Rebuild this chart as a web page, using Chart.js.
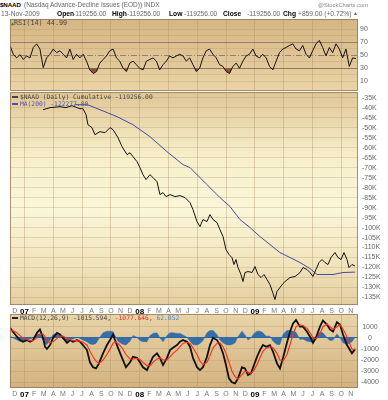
<!DOCTYPE html>
<html>
<head>
<meta charset="utf-8">
<script src="https://cdn.jsdelivr.net/npm/chart.js@4.4.1/dist/chart.umd.min.js"></script>
<style>
  body { margin: 0; background: #fff; }
  #wrap { position: relative; width: 388px; height: 400px; overflow: hidden; font-family: 'Liberation Sans', Arial, sans-serif; }
  canvas { position: absolute; left: 0; }
  .t { position: absolute; white-space: nowrap; line-height: 1; z-index: 2; }
  .g { color: #666; font-size: 6.7px; }
  .b { color: #000; font-weight: bold; font-size: 6.7px; }
  .mono { font-family: 'DejaVu Sans Mono', monospace; color: #444; font-size: 6.3px; }
  .dash { display: inline-block; width: 6px; height: 2px; vertical-align: middle; margin-right: 2px; }
</style>
</head>
<body>
<div id="wrap">
  <div class="t b" style="left:0;top:2px;font-size:6.2px;letter-spacing:-0.1px">$NAAD</div>
  <div class="t g" style="left:24px;top:2.4px;font-size:6.5px">(Nasdaq Advance-Decline Issues (EOD)) INDX</div>
  <div class="t g" style="left:318px;top:3px;font-size:5.8px;color:#888">@StockCharts.com</div>

  <div class="t g" style="left:1px;top:10.7px">13-Nov-2009</div>
  <div class="t b" style="left:57px;top:10.5px">Open</div>
  <div class="t g" style="left:73px;top:10.7px">-119256.00</div>
  <div class="t b" style="left:112px;top:10.5px">High</div>
  <div class="t g" style="left:127px;top:10.7px">-119256.00</div>
  <div class="t b" style="left:169px;top:10.5px">Low</div>
  <div class="t g" style="left:184px;top:10.7px">-119256.00</div>
  <div class="t b" style="left:223px;top:10.5px">Close</div>
  <div class="t g" style="left:247px;top:10.7px">-119256.00</div>
  <div class="t b" style="left:283px;top:10.5px">Chg</div>
  <div class="t g" style="left:298px;top:10.7px">+859.00 (+0.72%)</div>
  <div class="t g" style="left:353px;top:11px;font-size:5px;color:#3a7a30">▲</div>

  <div class="t mono" style="left:11px;top:19.5px;font-size:6.8px"><span style="color:#3a7a30;font-size:5px">▲</span>RSI(14) 44.99</div>

  <div class="t mono" style="left:12px;top:94.2px"><span class="dash" style="background:#444"></span>$NAAD (Daily) Cumulative -119256.00</div>
  <div class="t mono" style="left:12px;top:101.2px;color:#5050a8"><span class="dash" style="background:#5050a8"></span>MA(200) -122277.00</div>

  <div class="t mono" style="left:12px;top:315.2px"><span class="dash" style="background:#222"></span>MACD(12,26,9) -1015.594, <span style="color:#e03020">-1077.646,</span> <span style="color:#4a8ac8">62.052</span></div>

  <canvas id="rsiChart" width="388" height="72" style="top:19px"></canvas>
  <canvas id="mainChart" width="388" height="222" style="top:92px"></canvas>
  <canvas id="macdChart" width="388" height="83" style="top:314px"></canvas>
</div>

<script>
// time axis: months counted from Jan 2007 (0 = Jan 2007)
const xMin = -1.51;
const xMax = 34.74;
const tickMonths = [-1, 0, 1, 2, 3, 4, 5, 6, 7, 8, 9, 10, 11, 12, 13, 14, 15, 16, 17, 18, 19, 20, 21, 22, 23, 24, 25, 26, 27, 28, 29, 30, 31, 32, 33, 34];
const tickLabels = ['D', '07', 'F', 'M', 'A', 'M', 'J', 'J', 'A', 'S', 'O', 'N', 'D', '08', 'F', 'M', 'A', 'M', 'J', 'J', 'A', 'S', 'O', 'N', 'D', '09', 'F', 'M', 'A', 'M', 'J', 'J', 'A', 'S', 'O', 'N'];

// RSI(14), sampled at regular intervals from the first date
const rsiStart = -1.51;
const rsiStep = 0.3465;
const rsiValues = [65, 51.6, 46, 51, 43.6, 49, 46, 62, 67.6, 59.6,
  31, 46, 51.6, 59.6, 54, 57, 51.6, 46, 59.6, 43.6,
  51.6, 46, 51.6, 41, 27.6, 22, 25, 38, 43.6, 49,
  57, 59.6, 46, 41, 30, 25, 38, 41, 35.6, 30,
  27.6, 41, 43.6, 46, 41, 27.6, 35.6, 41, 49, 46,
  49, 51.6, 49, 41, 46, 35.6, 25, 30, 46, 57,
  59.6, 51.6, 46, 35.6, 33, 25, 22, 33, 38, 30,
  41, 49, 51.6, 59.6, 49, 46, 51.6, 46, 33, 27.6,
  41, 54, 59.6, 62, 65, 67.6, 59.6, 57, 65, 51.6,
  46, 57, 67.6, 73, 62, 49, 62, 54, 67.6, 59.6,
  46, 59.6, 33, 46, 44.99];
const rsiTicks = [10, 20, 30, 40, 50, 60, 70, 80, 90];

// $NAAD cumulative
const priceMonths = [1.93, 2.66, 3.70, 4.32, 4.95, 5.47, 5.78, 6.09, 6.41, 6.61, 7.03, 7.34, 7.86, 8.39, 8.91, 9.22, 9.74, 10.16, 10.68, 10.99,
  11.30, 11.72, 12.03, 12.34, 12.66, 13.07, 13.39, 13.80, 14.11, 14.43, 14.74, 15.16, 15.68, 16.20, 16.72, 17.24, 17.55, 17.97, 18.28, 18.59,
  19.01, 19.32, 19.64, 20.05, 20.36, 20.68, 20.99, 21.30, 21.61, 21.82, 22.03, 22.24, 22.55, 22.76, 22.97, 23.28, 23.70, 24.01, 24.32, 24.64,
  24.95, 25.26, 25.57, 25.89, 26.09, 26.30, 26.61, 26.93, 27.14, 27.66, 28.18, 28.70, 29.01, 29.43, 29.74, 30.05, 30.36, 30.68, 30.99, 31.30,
  31.61, 31.93, 32.34, 32.66, 32.97, 33.28, 33.59, 33.80, 34.11, 34.43];
const priceValues = [-41000, -40000, -39500, -40000, -39000, -40000, -40500, -40500, -43500, -48500, -50000, -53500, -52000, -52500, -50000, -51000, -55000, -59500, -63500, -62500,
  -64500, -67000, -70000, -73500, -76000, -73500, -75000, -77000, -83500, -82500, -84500, -83500, -84500, -84000, -85000, -87500, -91000, -97000, -99500, -96000,
  -97000, -93500, -96000, -97500, -101000, -104500, -111000, -113500, -115000, -118500, -116000, -120000, -123500, -127000, -122500, -122000, -122500, -119500, -123500, -125000,
  -123500, -126000, -128500, -133000, -136000, -132000, -130000, -128000, -127000, -125000, -124500, -122500, -120000, -121000, -122500, -124500, -121000, -117500, -116000, -117500,
  -118500, -115000, -112500, -115000, -116000, -112500, -116000, -120000, -118500, -119256];

// MA(200)
const maMonths = [5.26, 5.78, 6.61, 7.86, 9.64, 11.30, 13.07, 14.84, 16.51, 17.24, 19.01, 20.36, 21.41, 22.45, 23.49, 24.53, 25.57, 26.61, 27.66, 28.70, 29.74, 30.47, 31.09, 32.14, 33.18, 34.43];
const maValues = [-38500, -38500, -38600, -41000, -44500, -48500, -54500, -62000, -68500, -70000, -78500, -85000, -89500, -96000, -100000, -104500, -108500, -112500, -115000, -117500, -120500, -123500, -123500, -123500, -122500, -122277];
const mainTicks = [-35000, -40000, -45000, -50000, -55000, -60000, -65000, -70000, -75000, -80000, -85000, -90000, -95000, -100000, -105000, -110000, -115000, -120000, -125000, -130000, -135000];

// MACD(12,26,9)
const macdMonths = [-1.51, -1.20, -0.78, -0.47, -0.16, 0.26, 0.57, 0.89, 1.30, 1.61,
  1.93, 2.14, 2.34, 2.66, 2.97, 3.39, 3.70, 4.01, 4.43, 4.74,
  5.05, 5.47, 5.78, 6.09, 6.51, 6.82, 7.14, 7.45, 7.76, 8.18,
  8.59, 8.91, 9.22, 9.43, 9.74, 10.16, 10.57, 10.99, 11.30, 11.72,
  12.03, 12.34, 12.76, 13.07, 13.39, 13.80, 14.11, 14.43, 14.84, 15.16,
  15.47, 15.89, 16.20, 16.51, 16.93, 17.24, 17.55, 17.97, 18.28, 18.59,
  19.01, 19.32, 19.64, 20.05, 20.36, 20.68, 20.99, 21.30, 21.61, 21.93,
  22.24, 22.66, 22.97, 23.28, 23.59, 23.91, 24.22, 24.53, 24.84, 25.16,
  25.57, 25.89, 26.30, 26.61, 26.93, 27.34, 27.66, 27.97, 28.28, 28.70,
  29.01, 29.43, 29.74, 30.05, 30.36, 30.78, 31.09, 31.51, 31.82, 32.14,
  32.55, 32.86, 33.18, 33.59, 33.91, 34.11, 34.43];
const macdValues = [900, 550, 100, -200, -350, -200, -350, -200, 450, 750,
  0, -800, -1000, -650, 0, 450, 300, 0, -450, -200,
  -350, -200, -350, -650, -1100, -2200, -2650, -2750, -2300, -1400,
  -650, -200, 300, -200, -900, -1800, -2650, -2200, -1700, -1800,
  -2200, -2650, -2900, -2300, -1700, -1400, -1800, -2450, -1800, -1100,
  -900, -650, -350, -200, -350, -800, -1800, -2650, -2900, -2650,
  -1700, -650, 0, -200, -650, -1400, -2450, -3650, -4000, -4100,
  -3650, -2650, -2750, -3350, -3200, -2450, -1700, -1100, -650, -800,
  -650, -1250, -2300, -2750, -1800, -450, 550, 1300, 1600, 1000,
  1000, 550, 100, -450, 0, 1000, 1550, 1200, 750, 550,
  1400, 1200, 300, -650, -1100, -1400, -1016];
const signalValues = [700, 650, 450, 200, 0, -150, -250, -250, 0, 350,
  350, 100, -200, -450, -350, -50, 150, 150, -50, -150,
  -250, -250, -300, -400, -650, -1200, -1700, -2100, -2300, -2000,
  -1500, -1000, -500, -350, -500, -900, -1500, -1900, -1900, -1850,
  -1950, -2200, -2500, -2500, -2200, -1900, -1800, -2000, -2000, -1700,
  -1400, -1100, -800, -500, -400, -500, -900, -1500, -2100, -2400,
  -2200, -1600, -900, -500, -450, -800, -1400, -2200, -3000, -3500,
  -3700, -3300, -3000, -3100, -3200, -2900, -2400, -1800, -1200, -950,
  -800, -900, -1400, -2000, -2100, -1500, -600, 300, 1000, 1150,
  1100, 850, 450, 0, -100, 400, 1000, 1250, 1000, 750,
  1000, 1200, 800, 100, -600, -1000, -1078];
const histValues = [150, 0, -200, -300, -300, -100, -100, 0, 300, 350,
  -250, -550, -600, -200, 300, 400, 200, -100, -300, -100,
  -100, 50, -50, -200, -350, -550, -600, -500, -50, 450,
  600, 600, 550, 200, -300, -550, -650, -300, 200, 50,
  -250, -350, -350, 200, 400, 450, 0, -350, 200, 450,
  450, 400, 400, 250, 50, -300, -600, -650, -500, -250,
  450, 650, 650, 300, -200, -450, -600, -650, -600, -450,
  100, 600, 250, -200, 0, 400, 600, 600, 450, 150,
  150, -300, -600, -600, 300, 650, 650, 600, 500, -150,
  -100, -300, -350, -400, 100, 500, 450, 0, -250, -200,
  350, 0, -450, -600, -450, -350, 62];
const macdTicks = [1000, 0, -1000, -2000, -3000, -4000];

const gridCol = 'rgba(165,135,90,0.33)';
const fontFamily = "'Liberation Sans', Arial, sans-serif";

function points(xs, ys) {
    return ys.map((y, i) => ({ x: xs[i], y: y }));
}

function panel(stops) {
    return {
        id: 'panel',
        beforeDraw(chart) {
            const { ctx, chartArea: a } = chart;
            const g = ctx.createLinearGradient(0, a.top, 0, a.bottom);
            stops.forEach(([p, c]) => g.addColorStop(p, c));
            ctx.save();
            ctx.fillStyle = g;
            ctx.fillRect(a.left, a.top, a.right - a.left, a.bottom - a.top);
            ctx.restore();
        },
        afterDraw(chart) {
            const { ctx, chartArea: a } = chart;
            ctx.save();
            ctx.strokeStyle = 'rgba(140,115,85,0.75)';
            ctx.lineWidth = 1;
            ctx.strokeRect(a.left + 0.5, a.top + 0.5, a.right - a.left - 1, a.bottom - a.top - 1);
            ctx.restore();
        }
    };
}

// no overhang padding, so the panels sit exactly where the canvases put them
function noPad(ax) {
    ax.paddingTop = 0;
    ax.paddingBottom = 0;
    ax.paddingLeft = 0;
    ax.paddingRight = 0;
}

function xAxis(showLabels) {
    return {
        type: 'linear',
        min: xMin,
        max: xMax,
        afterBuildTicks: ax => { ax.ticks = tickMonths.map(v => ({ value: v })); },
        afterFit: ax => { ax.height = showLabels ? 9 : 0; noPad(ax); },
        grid: {
            color: c => (c.tick && c.tick.value % 3 === 0) ? gridCol : 'transparent',
            drawTicks: false
        },
        border: { display: false },
        ticks: {
            display: showLabels,
            autoSkip: false,
            maxRotation: 0,
            padding: 2,
            callback: (v, i) => tickLabels[i],
            color: c => (c.tick && c.tick.value % 12 === 0) ? '#000' : '#777',
            font: c => (c.tick && c.tick.value % 12 === 0)
                ? { family: fontFamily, size: 8, weight: 'bold' }
                : { family: fontFamily, size: 7 }
        }
    };
}

function yAxis(min, max, ticks, fmt, lineColor, pad, align) {
    return {
        position: 'right',
        min: min,
        max: max,
        afterBuildTicks: ax => { ax.ticks = ticks.map(v => ({ value: v })); },
        afterFit: ax => { ax.width = 30; noPad(ax); },
        grid: { color: c => lineColor(c.tick ? c.tick.value : null), drawTicks: false },
        border: { display: false },
        ticks: {
            autoSkip: false,
            padding: pad,
            crossAlign: align,
            color: '#666',
            font: { family: fontFamily, size: 7 },
            callback: fmt
        }
    };
}

function baseOptions(scales) {
    return {
        responsive: false,
        animation: false,
        layout: { padding: { left: 10, right: 0, top: 0, bottom: 0 } },
        elements: { point: { radius: 0 }, line: { tension: 0 } },
        plugins: { legend: { display: false }, tooltip: { enabled: false } },
        scales: scales
    };
}

// RSI panel
const rsiMid = {
    id: 'rsiMid',
    beforeDatasetsDraw(chart) {
        const { ctx, chartArea: a } = chart;
        const y = Math.round(chart.scales.y.getPixelForValue(50)) + 0.5;
        ctx.save();
        ctx.strokeStyle = 'rgba(110,100,95,0.7)';
        ctx.lineWidth = 1;
        ctx.setLineDash([6, 2, 1, 2]);
        ctx.beginPath();
        ctx.moveTo(a.left, y);
        ctx.lineTo(a.right, y);
        ctx.stroke();
        ctx.restore();
    }
};

new Chart(document.getElementById('rsiChart'), {
    type: 'line',
    data: {
        datasets: [{
            data: rsiValues.map((v, i) => ({ x: rsiStart + i * rsiStep, y: v })),
            borderColor: '#111',
            borderWidth: 1,
            fill: { target: { value: 30 }, above: 'transparent', below: 'rgba(135,62,42,0.85)' }
        }]
    },
    options: baseOptions({
        x: xAxis(false),
        y: yAxis(-4.9, 105.8, rsiTicks,
            v => (v % 20 === 10 ? String(v) : ''),
            v => (v === 30 || v === 70) ? 'rgba(120,110,100,0.75)' : (v === 50 ? 'transparent' : 'rgba(165,135,90,0.22)'),
            2, 'near')
    }),
    plugins: [panel([[0, 'rgb(214,181,132)'], [1, 'rgb(234,212,166)']]), rsiMid]
});

// price panel
new Chart(document.getElementById('mainChart'), {
    type: 'line',
    data: {
        datasets: [
            { data: points(maMonths, maValues), borderColor: '#4848a8', borderWidth: 1, order: 2 },
            { data: points(priceMonths, priceValues), borderColor: '#111', borderWidth: 1, order: 1 }
        ]
    },
    options: baseOptions({
        x: xAxis(true),
        y: yAxis(-138750, -32150, mainTicks,
            v => (v / 1000) + 'K',
            () => 'rgba(165,135,90,0.25)',
            4, 'near')
    }),
    plugins: [panel([[0, 'rgb(224,198,150)'], [0.3, 'rgb(247,239,202)'], [0.55, 'rgb(250,246,216)'], [0.82, 'rgb(241,227,187)'], [1, 'rgb(228,206,160)']])]
});

// MACD panel
new Chart(document.getElementById('macdChart'), {
    type: 'line',
    data: {
        datasets: [
            { data: points(macdMonths, histValues), borderColor: 'rgba(35,100,170,0.9)', borderWidth: 0.5, backgroundColor: 'rgba(35,100,170,0.9)', fill: 'origin', order: 3 },
            { data: points(macdMonths, macdValues), borderColor: '#111', borderWidth: 1.8, order: 2 },
            { data: points(macdMonths, signalValues), borderColor: '#ff2a1a', borderWidth: 1.1, order: 1 }
        ]
    },
    options: baseOptions({
        x: xAxis(true),
        y: yAxis(-4514, 2144, macdTicks,
            v => String(v),
            v => v === 0 ? 'rgba(35,100,170,0.9)' : 'rgba(165,135,90,0.25)',
            3, 'center')
    }),
    plugins: [panel([[0, 'rgb(232,212,168)'], [1, 'rgb(212,178,128)']])]
});
</script>
</body>
</html>
